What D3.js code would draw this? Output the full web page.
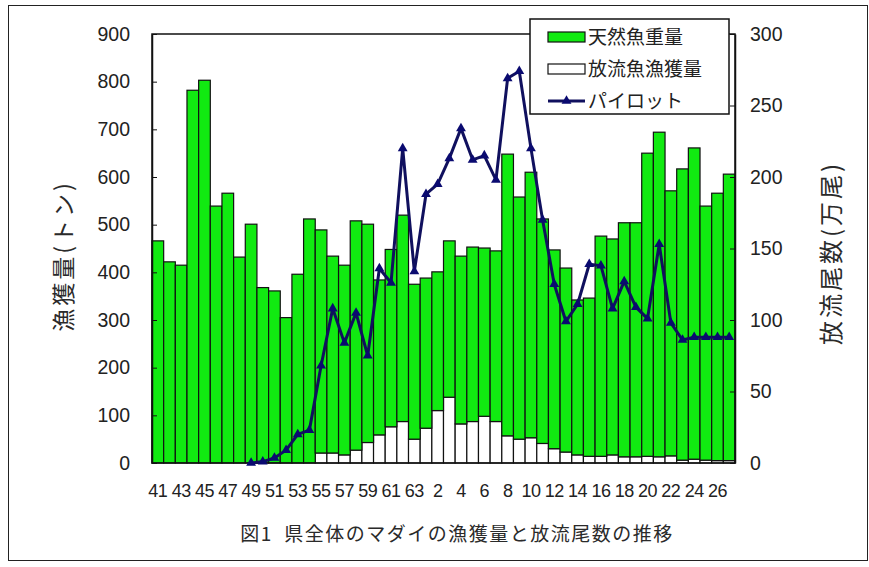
<!DOCTYPE html>
<html>
<head>
<meta charset="utf-8">
<script src="https://cdn.jsdelivr.net/npm/d3@7"></script>
<style>
  body { margin: 0; background: #fff; }
  svg text { font-family: "Liberation Sans", Arial, sans-serif; }
  .jp { font-family: "Noto Sans CJK JP", sans-serif; }
</style>
</head>
<body>
<svg id="svg" width="869" height="567"></svg>
<script>
// years: Showa 41-63, Heisei 1-27
var years = ["41","42","43","44","45","46","47","48","49","50","51","52","53","54","55","56","57","58","59","60","61","62","63",
  "1","2","3","4","5","6","7","8","9","10","11","12","13","14","15","16","17","18","19","20","21","22","23","24","25","26","27"]
var yearTicks = ["41","43","45","47","49","51","53","55","57","59","61","63","2","4","6","8","10","12","14","16","18","20","22","24","26"]

// 天然魚重量 (t)
var natural = [466,422,415,782,803,539,566,432,501,368,361,305,396,512,468,413,398,481,458,325,372,433,325,
  315,291,328,352,366,353,358,591,508,557,471,417,386,325,332,462,453,491,491,636,681,556,611,653,533,561,601]
// 放流魚漁獲量 (t)
var stocked = [0,0,0,0,0,0,0,0,0,0,0,0,0,0,21,21,17,27,43,59,76,87,50,
  73,110,138,82,87,98,87,57,50,53,41,30,23,17,14,14,17,13,13,14,13,15,6,8,6,5,5]
// パイロット 放流尾数 (万尾)
var pilot = [null,null,null,null,null,null,null,null,0,1,3.5,9,20,23,68,108,84,105,75,136,126,220,134,
  188,195,213,234,212,215,198,269,274,220,170,125,99,111,139,138,108,127,109,101,153,98,86,88,88,88,88]

var leftTicks = [0,100,200,300,400,500,600,700,800,900]
var rightTicks = [0,50,100,150,200,250,300]

var svg = d3.select("#svg")
var plot = {left: 152, right: 735, top: 34, bottom: 463}

// outer frame
svg.append("rect")
    .attr("x", 8.5).attr("y", 5.5)
    .attr("width", 859).attr("height", 555)
    .attr("fill", "#fff").attr("stroke", "#222").attr("stroke-width", 1)

var x = d3.scaleBand()
    .domain(years)
    .range([plot.left, plot.right])
    .padding(0)

var y = d3.scaleLinear().domain([0, 900]).range([plot.bottom, plot.top])
var y2 = d3.scaleLinear().domain([0, 300]).range([plot.bottom, plot.top])

var rows = years.map(function (d, i) {
    return {year: d, natural: natural[i], stocked: stocked[i], pilot: pilot[i]}
})

// stacked bars: stocked at bottom, natural above
var bars = svg.append("g")
bars.selectAll(".stocked")
    .data(rows)
    .enter().append("rect")
    .attr("class", "stocked")
    .attr("x", function (d) { return x(d.year) })
    .attr("width", x.bandwidth())
    .attr("y", function (d) { return y(d.stocked) })
    .attr("height", function (d) { return y(0) - y(d.stocked) })
    .attr("fill", "#fff")
    .attr("stroke", "#111").attr("stroke-width", 1.2)

bars.selectAll(".natural")
    .data(rows)
    .enter().append("rect")
    .attr("class", "natural")
    .attr("x", function (d) { return x(d.year) })
    .attr("width", x.bandwidth())
    .attr("y", function (d) { return y(d.stocked + d.natural) })
    .attr("height", function (d) { return y(d.stocked) - y(d.stocked + d.natural) })
    .attr("fill", "#11ea11")
    .attr("stroke", "#111").attr("stroke-width", 1.2)

// plot frame
svg.append("rect")
    .attr("x", plot.left).attr("y", plot.top)
    .attr("width", plot.right - plot.left).attr("height", plot.bottom - plot.top)
    .attr("fill", "none").attr("stroke", "#111").attr("stroke-width", 1.5)

// axes
var gl = svg.append("g")
    .attr("transform", "translate(" + plot.left + ",0)")
    .call(d3.axisLeft(y).tickValues(leftTicks).tickSizeInner(-5).tickSizeOuter(0).tickPadding(22))
var gr = svg.append("g")
    .attr("transform", "translate(" + plot.right + ",0)")
    .call(d3.axisRight(y2).tickValues(rightTicks).tickSizeInner(-5).tickSizeOuter(0).tickPadding(15))
var gb = svg.append("g")
    .attr("transform", "translate(0," + plot.bottom + ")")
    .call(d3.axisBottom(x).tickValues(yearTicks).tickSize(0).tickPadding(21))

;[gl, gr, gb].forEach(function (g) {
    g.select(".domain").attr("stroke", "#111").attr("stroke-width", 1.5)
    g.selectAll(".tick line").attr("stroke", "#111")
    g.selectAll("text").attr("font-size", 19.5).attr("fill", "#222")
})
gb.select(".domain").remove()
gb.selectAll("text").attr("font-size", 18).attr("letter-spacing", -0.5)

// pilot line
var line = d3.line()
    .defined(function (d) { return d.pilot !== null })
    .x(function (d) { return x(d.year) + x.bandwidth() / 2 })
    .y(function (d) { return y2(d.pilot) })

svg.append("path")
    .datum(rows)
    .attr("d", line)
    .attr("fill", "none")
    .attr("stroke", "#10105e")
    .attr("stroke-width", 3)
    .attr("stroke-linejoin", "round")

var tri = d3.symbol().type(d3.symbolTriangle).size(42)
svg.append("g").selectAll("path")
    .data(rows.filter(function (d) { return d.pilot !== null }))
    .enter().append("path")
    .attr("d", tri)
    .attr("transform", function (d) {
        return "translate(" + (x(d.year) + x.bandwidth() / 2) + "," + y2(d.pilot) + ")"
    })
    .attr("fill", "#0a0a70")

// axis titles
svg.append("text")
    .attr("class", "jp")
    .attr("transform", "translate(72,256) rotate(-90)")
    .attr("text-anchor", "middle")
    .attr("font-size", 23)
    .attr("letter-spacing", 3)
    .attr("fill", "#2a2a2a")
    .text("漁獲量(トン)")

svg.append("text")
    .attr("class", "jp")
    .attr("transform", "translate(840,253) rotate(-90)")
    .attr("text-anchor", "middle")
    .attr("font-size", 24)
    .attr("letter-spacing", 3)
    .attr("fill", "#2a2a2a")
    .text("放流尾数(万尾)")

// legend
var legend = svg.append("g").attr("transform", "translate(530,19)")
legend.append("rect")
    .attr("width", 199).attr("height", 95)
    .attr("fill", "#fff").attr("stroke", "#111").attr("stroke-width", 1.5)

var legendItems = ["天然魚重量", "放流魚漁獲量", "パイロット"]
legendItems.forEach(function (name, i) {
    var cy = 18 + i * 32
    if (i < 2) {
        legend.append("rect")
            .attr("x", 18).attr("y", cy - 5)
            .attr("width", 37).attr("height", 10)
            .attr("fill", i === 0 ? "#11ea11" : "#fff")
            .attr("stroke", "#111").attr("stroke-width", 1.2)
    } else {
        legend.append("line")
            .attr("x1", 18).attr("x2", 55).attr("y1", cy).attr("y2", cy)
            .attr("stroke", "#10105e").attr("stroke-width", 3)
        legend.append("path")
            .attr("d", tri)
            .attr("transform", "translate(36.5," + cy + ")")
            .attr("fill", "#0a0a70")
    }
    legend.append("text")
        .attr("class", "jp")
        .attr("x", 58).attr("y", cy)
        .attr("dy", "0.35em")
        .attr("font-size", 19)
        .attr("fill", "#222")
        .text(name)
})

// caption
svg.append("text")
    .attr("class", "jp")
    .attr("x", 457).attr("y", 541)
    .attr("text-anchor", "middle")
    .attr("font-size", 19)
    .attr("letter-spacing", 1.5)
    .attr("fill", "#2a2a2a")
    .attr("xml:space", "preserve")
    .text("図1  県全体のマダイの漁獲量と放流尾数の推移")
</script>
</body>
</html>
